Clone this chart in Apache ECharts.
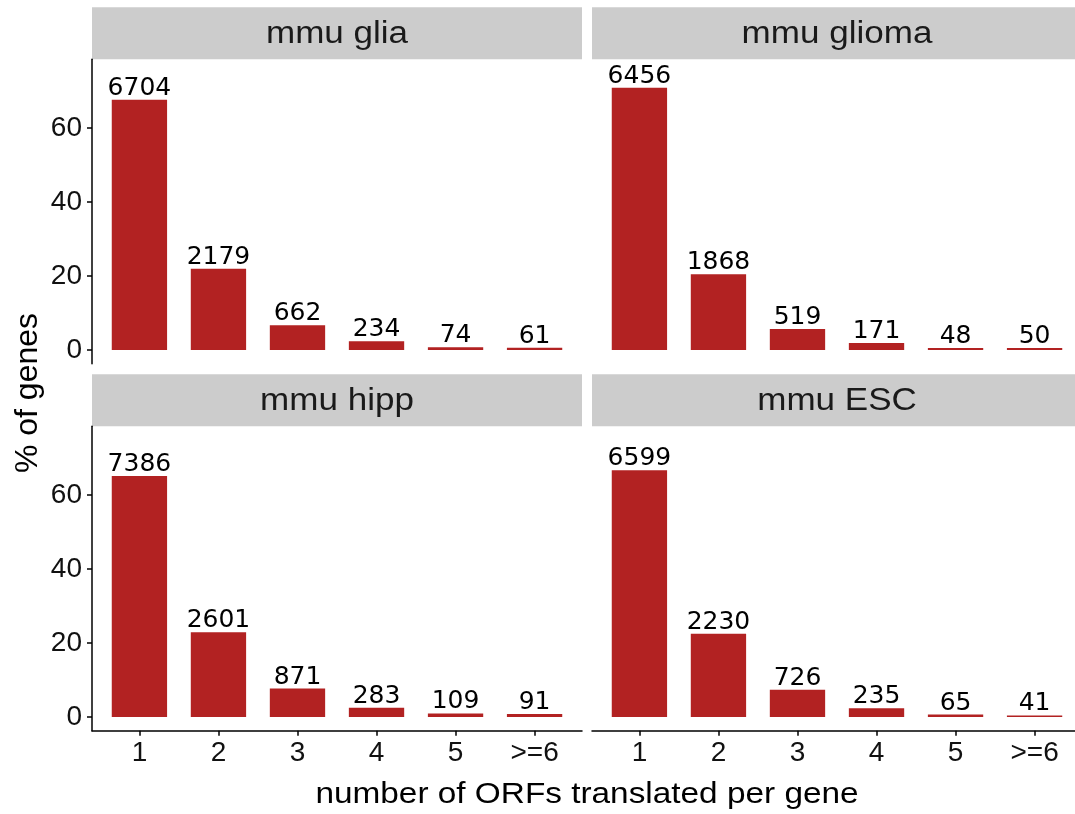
<!DOCTYPE html>
<html>
<head>
<meta charset="utf-8">
<title>ORFs translated per gene</title>
<script src="https://cdn.jsdelivr.net/npm/echarts@6/dist/echarts.min.js"></script>
<style>
  html, body { margin: 0; padding: 0; background: #ffffff; }
  #chart { width: 1075px; height: 814px; }
</style>
</head>
<body>
<div id="chart"></div>
<script>
// Number of ORFs translated per gene, one facet per sample
const categories = ['1', '2', '3', '4', '5', '>=6'];
const panelTitles = ['mmu glia', 'mmu glioma', 'mmu hipp', 'mmu ESC'];
const gliaCounts = [6704, 2179, 662, 234, 74, 61];
const gliomaCounts = [6456, 1868, 519, 171, 48, 50];
const hippCounts = [7386, 2601, 871, 283, 109, 91];
const escCounts = [6599, 2230, 726, 235, 65, 41];
const yTickValues = [0, 20, 40, 60];
const xAxisTitle = 'number of ORFs translated per gene';
const yAxisTitle = '% of genes';

const panelCounts = [gliaCounts, gliomaCounts, hippCounts, escCounts];

// share of genes (%) for each ORF-count class
function toPercent(counts) {
  const total = counts.reduce((a, b) => a + b, 0);
  return counts.map(c => c / total * 100);
}

// facet geometry: the right column runs past the canvas edge and is cut off there
const canvasWidth = 1075;
const panelLeft = [92, 592];
const panelTop = [59.2, 426.2];
const fullPanelWidth = 490;
const panelHeight = 304.5;
const stripHeight = 52;
const xMin = 0.4, xFullMax = 6.6;
const yMin = -3.7, yMax = 78.6;
const pxPerUnit = fullPanelWidth / (xFullMax - xMin);
const barWidthPx = pxPerUnit * 0.7;

const barColor = '#B22222';
const stripColor = '#CCCCCC';
const textFont = '"Liberation Sans", Arial, Helvetica, sans-serif';
const labelFont = '"DejaVu Sans", sans-serif';

const grids = [], xAxes = [], yAxes = [], series = [], graphics = [];

panelTitles.forEach((title, p) => {
  const col = p % 2, row = Math.floor(p / 2);
  const left = panelLeft[col], top = panelTop[row];
  const isBottom = row === 1, isLeft = col === 0;
  const width = Math.min(fullPanelWidth, canvasWidth - left);
  const xMax = xMin + width / pxPerUnit;

  grids.push({ left: left, top: top, width: width, height: panelHeight, containLabel: false, outerBoundsMode: 'none' });

  xAxes.push({
    gridIndex: p, type: 'value', min: xMin, max: xMax,
    axisLine: { show: isBottom, onZero: false, lineStyle: { color: '#000', width: 1.5 } },
    axisTick: { show: isBottom, length: 5, lineStyle: { color: '#000', width: 1.5 }, customValues: [1, 2, 3, 4, 5, 6] },
    axisLabel: {
      show: isBottom, margin: 9, fontSize: 28, color: '#111', fontFamily: textFont,
      customValues: [1, 2, 3, 4, 5, 6],
      formatter: v => categories[Math.round(v) - 1]
    },
    splitLine: { show: false }
  });

  yAxes.push({
    gridIndex: p, type: 'value', min: yMin, max: yMax,
    axisLine: { show: isLeft, onZero: false, lineStyle: { color: '#000', width: 1.5 } },
    axisTick: { show: isLeft, length: 5, lineStyle: { color: '#000', width: 1.5 }, customValues: yTickValues },
    axisLabel: {
      show: isLeft, margin: 10, fontSize: 28, color: '#111', fontFamily: textFont,
      customValues: yTickValues
    },
    splitLine: { show: false }
  });

  const counts = panelCounts[p];
  const pct = toPercent(counts);
  series.push({
    type: 'bar', name: title, xAxisIndex: p, yAxisIndex: p,
    barWidth: barWidthPx,
    itemStyle: { color: barColor },
    data: pct.map((v, i) => [i + 1, v]),
    label: {
      show: true, position: 'top', distance: -1,
      fontFamily: labelFont, fontSize: 25, color: '#000',
      formatter: params => String(counts[params.dataIndex])
    },
    silent: true, animation: false
  });

  // facet strip (full facet width, clipped by the canvas)
  graphics.push({
    type: 'rect', silent: true,
    shape: { x: left, y: top - stripHeight, width: fullPanelWidth, height: stripHeight },
    style: { fill: stripColor }
  });
  graphics.push({
    type: 'text', silent: true,
    x: left + fullPanelWidth / 2, y: top - stripHeight / 2 + 1,
    scaleX: 1.13,
    style: {
      text: title, fontSize: 31, fontFamily: textFont, fill: '#1a1a1a',
      align: 'center', verticalAlign: 'middle'
    }
  });
});

// shared axis titles
graphics.push({
  type: 'text', silent: true, x: 587, y: 795, scaleX: 1.15,
  style: { text: xAxisTitle, fontSize: 29, fontFamily: textFont, fill: '#000', align: 'center', verticalAlign: 'middle' }
});
graphics.push({
  type: 'text', silent: true, x: 28, y: 393, rotation: Math.PI / 2,
  style: { text: yAxisTitle, fontSize: 32, fontFamily: textFont, fill: '#000', align: 'center', verticalAlign: 'middle' }
});

const chart = echarts.init(document.getElementById('chart'), null, { renderer: 'canvas' });
chart.setOption({
  animation: false,
  backgroundColor: '#ffffff',
  grid: grids,
  xAxis: xAxes,
  yAxis: yAxes,
  series: series,
  graphic: graphics
});
</script>
</body>
</html>
